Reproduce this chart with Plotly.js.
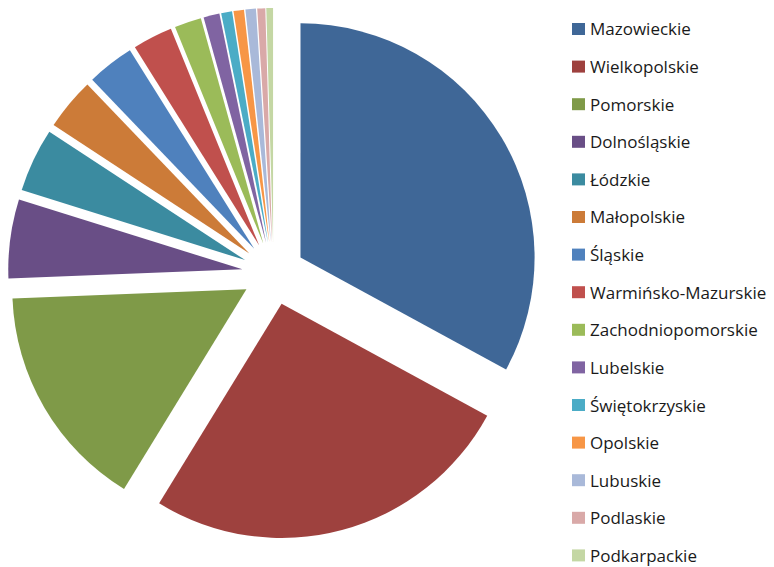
<!DOCTYPE html>
<html>
<head>
<meta charset="utf-8">
<script src="https://cdn.plot.ly/plotly-3.0.1.min.js"></script>
<style>html,body{margin:0;padding:0;background:#fff}#chart{width:774px;height:567px}</style>
</head>
<body>
<div id="chart"></div>
<script>
const regions = ["Mazowieckie","Wielkopolskie","Pomorskie","Dolnośląskie","Łódzkie","Małopolskie","Śląskie","Warmińsko-Mazurskie","Zachodniopomorskie","Lubelskie","Świętokrzyskie","Opolskie","Lubuskie","Podlaskie","Podkarpackie"];
const shares = [32.9, 25.8, 15.6, 5.45, 4.4, 3.6, 3.25, 2.75, 1.85, 1.1, 0.75, 0.72, 0.72, 0.55, 0.46];
const colors = ["#3F6797","#9E413E","#7F9A48","#694E86","#3B8BA0","#CC7B38","#4F81BD","#C0504D","#9BBB59","#8064A2","#4BACC6","#F79646","#A9B9D9","#D9A9A8","#C4D7A4"];

const W = 774, H = 567;
const trace = {
  type: 'pie',
  labels: regions,
  values: shares,
  sort: false,
  direction: 'clockwise',
  rotation: 0,
  pull: regions.map(() => 0.134),
  marker: {colors: colors, line: {width: 0}},
  textinfo: 'none',
  showlegend: false,
  domain: {x: [8 / W, 539 / W], y: [1 - 539 / H, 1 - 8 / H]}
};

const annotations = [];
const shapes = [];
const legendTop = 29, legendStep = 37.6;
regions.forEach((name, i) => {
  const yc = legendTop + i * legendStep;
  shapes.push({type: 'rect', xref: 'paper', yref: 'paper',
    x0: 572 / W, x1: 585 / W, y0: 1 - (yc + 6) / H, y1: 1 - (yc - 6) / H,
    fillcolor: colors[i], line: {width: 0}});
  annotations.push({xref: 'paper', yref: 'paper', x: 588 / W, y: 1 - yc / H,
    xanchor: 'left', yanchor: 'middle', text: name, showarrow: false,
    font: {family: '"Open Sans", sans-serif', size: 17, color: '#1a1a1a'}});
});

const layout = {
  width: W, height: H,
  margin: {l: 0, r: 0, t: 0, b: 0},
  paper_bgcolor: '#ffffff',
  showlegend: false,
  shapes: shapes,
  annotations: annotations
};
Plotly.newPlot('chart', [trace], layout, {displayModeBar: false, staticPlot: true});
</script>
</body>
</html>
